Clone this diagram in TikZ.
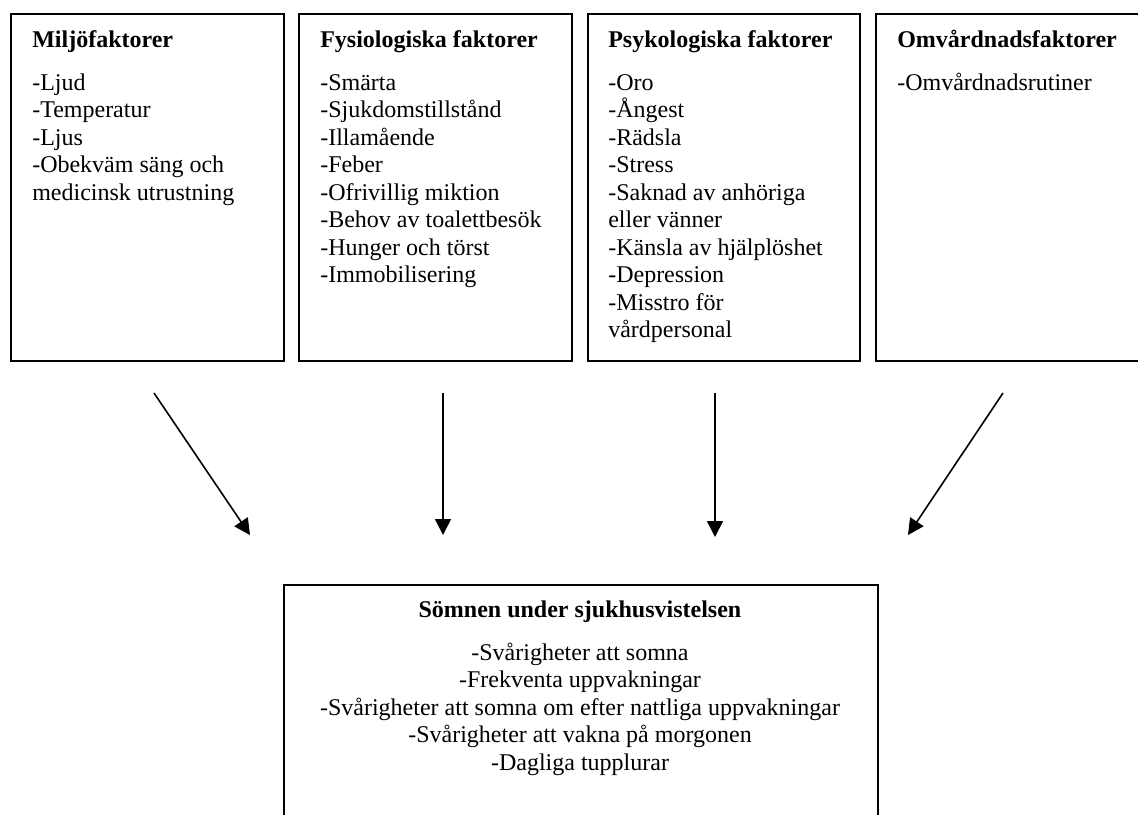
\documentclass[tikz,border=0pt]{standalone}
\usepackage{fontspec}
\setmainfont{Liberation Serif}
\usetikzlibrary{arrows.meta}
\begin{document}
\begin{tikzpicture}[x=0.75pt,y=-0.75pt,
  box/.style={draw, line width=1.5pt, rectangle, inner sep=0pt, anchor=north west},
  txt/.style={anchor=north west, inner sep=0pt, align=left, font=\fontsize{18}{20.625}\selectfont},
  ctxt/.style={anchor=north, inner sep=0pt, align=center, font=\fontsize{18}{20.625}\selectfont},
  arr/.style={line width=1.2pt, -{Triangle[width=12pt,length=12pt]}}]
\useasboundingbox (0,0) rectangle (1138,814);
\clip (0,0) rectangle (1138,814);
% factor boxes
\node[box, minimum width=204.75pt, minimum height=260.25pt] (b1) at (10,13) {};
\node[box, minimum width=204.75pt, minimum height=260.25pt] (b2) at (298,13) {};
\node[box, minimum width=204pt, minimum height=260.25pt] (b3) at (587,13) {};
\node[box, minimum width=204.75pt, minimum height=260.25pt] (b4) at (875,13) {};
% result box
\node[box, minimum width=445.5pt, minimum height=225pt] (b5) at (283,584) {};
% texts
\node[txt] (t1) at (32,27.75) {\textbf{Miljöfaktorer}\strut\\[11.6pt]-Ljud\\-Temperatur\\-Ljus\\-Obekväm säng och\\medicinsk utrustning};
\node[txt] (t2) at (320,27.75) {\textbf{Fysiologiska faktorer}\strut\\[11.6pt]-Smärta\\-Sjukdomstillstånd\\-Illamående\\-Feber\\-Ofrivillig miktion\\-Behov av toalettbesök\\-Hunger och törst\\-Immobilisering};
\node[txt] (t3) at (608,27.75) {\textbf{Psykologiska faktorer}\strut\\[11.6pt]-Oro\\-Ångest\\-Rädsla\\-Stress\\-Saknad av anhöriga\\eller vänner\\-Känsla av hjälplöshet\\-Depression\\-Misstro för\\vårdpersonal};
\node[txt] (t4) at (897,27.75) {\textbf{Omvårdnadsfaktorer}\strut\\[11.6pt]-Omvårdnadsrutiner};
\node[ctxt] (t5) at (580,597.75) {\textbf{Sömnen under sjukhusvistelsen}\strut\\[11.6pt]-Svårigheter att somna\\-Frekventa uppvakningar\\-Svårigheter att somna om efter nattliga uppvakningar\\-Svårigheter att vakna på morgonen\\-Dagliga tupplurar};
% arrows
\coordinate (a1s) at (154,393); \coordinate (a1e) at (250,535);
\coordinate (a2s) at (443,393); \coordinate (a2e) at (443,535);
\coordinate (a3s) at (715,393); \coordinate (a3e) at (715,537);
\coordinate (a4s) at (1003,393); \coordinate (a4e) at (908,535);
\draw[arr] (a1s) -- (a1e);
\draw[arr] (a2s) -- (a2e);
\draw[arr] (a3s) -- (a3e);
\draw[arr] (a4s) -- (a4e);
\end{tikzpicture}
\end{document}
